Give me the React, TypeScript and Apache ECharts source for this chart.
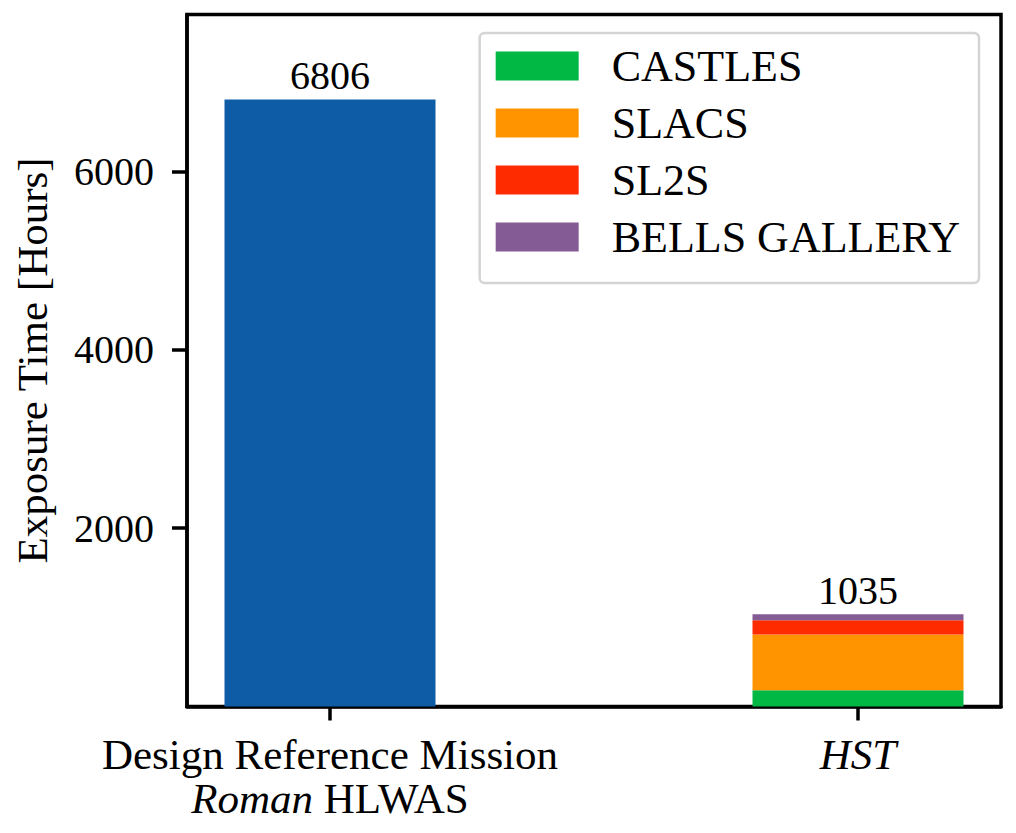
import React, { useEffect, useRef } from "react";
import * as echarts from "echarts";

const barCategories = ["Roman", "HST"];
const romanValues = [6806, "-"];
const hstCategories = ["CASTLES", "SLACS", "SL2S", "BELLS GALLERY"];
const hstValues = [182, 626, 159, 68];
const hstTotal = 1035;
const hstColors = ["#00b843", "#ff9400", "#ff2b00", "#855b96"];
const romanColor = "#0f5ca6";
const yTicks = [2000, 4000, 6000];
const xPositions = [0, 1];

const FONT = "Liberation Serif";
const NUM_SIZE = 40;
const TXT_SIZE = 43;
const LEG_SIZE = 44;
const Y_MAX = 7760;

export default function App() {
  const ref = useRef<HTMLDivElement>(null);
  useEffect(() => {
    const chart = echarts.init(ref.current!, null, { renderer: "svg" });
    const topLabel = (text: string) => ({
      show: true,
      position: "top",
      distance: 4,
      color: "#000",
      fontFamily: FONT,
      fontSize: NUM_SIZE,
      formatter: () => text,
    });
    const series: any[] = [
      {
        name: "Roman",
        type: "bar",
        stack: "all",
        xAxisIndex: 1,
        yAxisIndex: 1,
        barWidth: 211,
        clip: false,
        data: romanValues,
        itemStyle: { color: romanColor },
        label: topLabel(String(romanValues[0])),
      },
      ...hstCategories.map((name, i) => ({
        name,
        type: "bar",
        stack: "all",
        xAxisIndex: 1,
        yAxisIndex: 1,
        barWidth: 211,
        clip: false,
        data: ["-", hstValues[i]],
        itemStyle: { color: hstColors[i] },
        label:
          i === hstCategories.length - 1
            ? topLabel(String(hstTotal))
            : { show: false },
      })),
    ];
    chart.setOption({
      animation: false,
      backgroundColor: "#fff",
      grid: [
        {
          left: 187,
          top: 14.5,
          width: 814,
          height: 692,
          show: true,
          borderColor: "#000",
          borderWidth: 3.5,
          containLabel: false,
        },
        {
          left: 330,
          top: 14.5,
          width: 528,
          height: 692,
          show: false,
          containLabel: false,
        },
      ],
      xAxis: [
        {
          type: "value",
          gridIndex: 0,
          min: -0.2708,
          max: 1.2708,
          splitLine: { show: false },
          axisLine: { show: true, onZero: false, lineStyle: { color: "#000", width: 3.5 } },
          axisTick: {
            show: true,
            customValues: xPositions,
            length: 14,
            lineStyle: { color: "#000", width: 3.5 },
          },
          axisLabel: {
            show: true,
            customValues: xPositions,
            margin: 26,
            color: "#000",
            fontFamily: FONT,
            fontSize: TXT_SIZE,
            lineHeight: 44,
            formatter: (v: number) =>
              v === 0
                ? "{n|Design Reference Mission}\n{i|Roman}{n| HLWAS}"
                : "{i|HST}",
            rich: {
              n: { fontFamily: FONT, fontSize: TXT_SIZE, lineHeight: 44, color: "#000" },
              i: {
                fontFamily: FONT,
                fontSize: TXT_SIZE,
                lineHeight: 44,
                fontStyle: "italic",
                color: "#000",
              },
            },
          },
        },
        {
          type: "category",
          gridIndex: 1,
          data: barCategories,
          boundaryGap: false,
          show: false,
        },
      ],
      yAxis: [
        {
          type: "value",
          gridIndex: 0,
          min: 0,
          max: Y_MAX,
          splitLine: { show: false },
          name: "Exposure Time [Hours]",
          nameLocation: "middle",
          nameGap: 133,
          nameRotate: 90,
          nameTextStyle: { color: "#000", fontFamily: FONT, fontSize: TXT_SIZE },
          axisLine: { show: true, onZero: false, lineStyle: { color: "#000", width: 3.5 } },
          axisTick: {
            show: true,
            customValues: yTicks,
            length: 15,
            lineStyle: { color: "#000", width: 3.5 },
          },
          axisLabel: {
            show: true,
            customValues: yTicks,
            margin: 33,
            color: "#000",
            fontFamily: FONT,
            fontSize: NUM_SIZE,
            formatter: (v: number) => String(v),
          },
        },
        {
          type: "value",
          gridIndex: 1,
          min: 0,
          max: Y_MAX,
          show: false,
          splitLine: { show: false },
        },
      ],
      legend: {
        data: hstCategories,
        orient: "vertical",
        right: 37,
        top: 33,
        itemWidth: 83,
        itemHeight: 29,
        itemGap: 13,
        padding: [11, 19, 24, 16],
        backgroundColor: "#fff",
        borderColor: "#d4d4d4",
        borderWidth: 2.5,
        borderRadius: 5,
        icon: "rect",
        selectedMode: false,
        textStyle: {
          color: "#000",
          fontFamily: FONT,
          fontSize: LEG_SIZE,
          padding: [0, 0, 0, 28],
        },
      },
      series,
    });
    return () => chart.dispose();
  }, []);
  return (
    <div
      ref={ref}
      style={{ position: "fixed", left: 0, top: 0, width: 1016, height: 833 }}
    />
  );
}
